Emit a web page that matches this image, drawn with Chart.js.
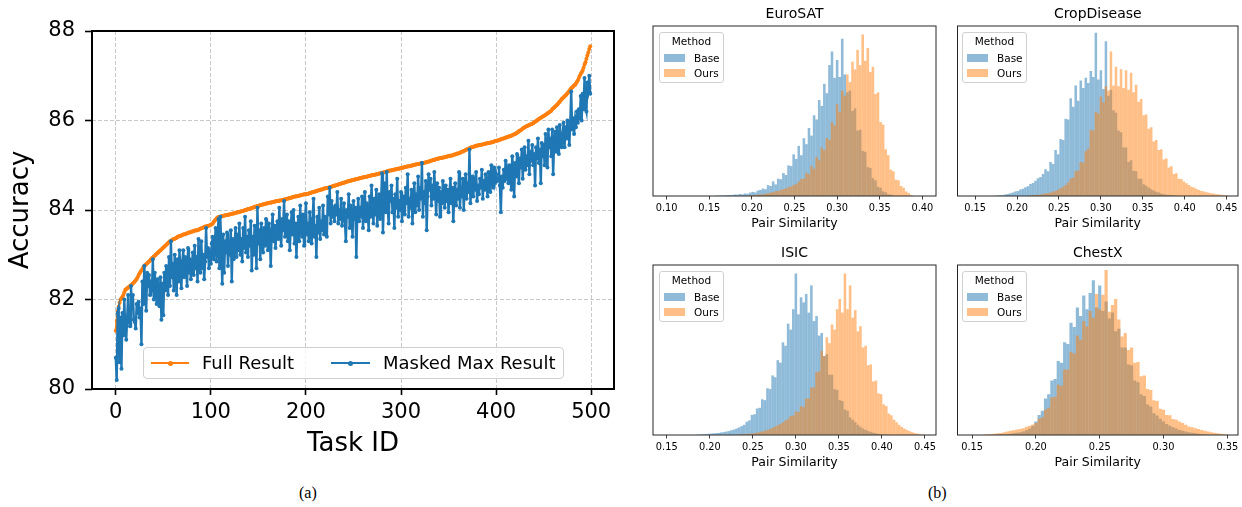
<!DOCTYPE html>
<html><head><meta charset="utf-8">
<script src="https://cdn.jsdelivr.net/npm/chart.js@4.4.1/dist/chart.umd.min.js"></script>
<style>
html,body{margin:0;padding:0;background:#fff;}
body{width:1242px;height:507px;overflow:hidden;position:relative;font-family:"DejaVu Sans",sans-serif;color:#000;}
canvas{position:absolute;}
.leg{position:absolute;box-sizing:border-box;border:1px solid #d0d0d0;border-radius:4px;background:rgba(255,255,255,0.8);}
.lt{position:absolute;font-size:18px;line-height:31px;top:-1px;white-space:nowrap;}
.ls{position:absolute;height:2.4px;top:13.8px;}
.ld{position:absolute;width:5px;height:5px;border-radius:50%;top:-1.3px;}
.hleg{position:absolute;box-sizing:border-box;width:65px;height:51px;border:1px solid #d0d0d0;border-radius:3px;background:rgba(255,255,255,0.8);font-size:10.5px;}
.hleg .ht{position:absolute;left:0;right:0;top:2px;text-align:center;line-height:13px;}
.hleg .row{position:absolute;left:0;right:0;height:13px;line-height:13px;}
.hleg .pt{position:absolute;left:4px;top:2.5px;width:21px;height:8px;}
.hleg .tx{position:absolute;left:34px;top:0;}
.cap{position:absolute;font-family:"Liberation Serif",serif;font-size:16px;}
</style></head>
<body>
<canvas id="main" width="630" height="470" style="left:0;top:0"></canvas>
<canvas id="euro" width="300" height="240" style="left:640px;top:0"></canvas>
<canvas id="crop" width="302" height="240" style="left:940px;top:0"></canvas>
<canvas id="isic" width="300" height="240" style="left:640px;top:239px"></canvas>
<canvas id="chest" width="302" height="240" style="left:940px;top:239px"></canvas>

<div class="leg" style="left:143px;top:347px;width:421px;height:32px;">
  <div class="ls" style="left:7px;width:38px;background:#ff7f0e"><div class="ld" style="left:16.5px;background:#ff7f0e"></div></div>
  <div class="lt" style="left:58px">Full Result</div>
  <div class="ls" style="left:187px;width:39px;background:#1f77b4"><div class="ld" style="left:17px;background:#1f77b4"></div></div>
  <div class="lt" style="left:239px">Masked Max Result</div>
</div>

<div class="hleg" style="left:659px;top:32px;"><div class="ht">Method</div>
  <div class="row" style="top:18.5px"><span class="pt" style="background:#8fbbd9"></span><span class="tx">Base</span></div>
  <div class="row" style="top:33.5px"><span class="pt" style="background:#ffbf86"></span><span class="tx">Ours</span></div></div>
<div class="hleg" style="left:962px;top:32px;"><div class="ht">Method</div>
  <div class="row" style="top:18.5px"><span class="pt" style="background:#8fbbd9"></span><span class="tx">Base</span></div>
  <div class="row" style="top:33.5px"><span class="pt" style="background:#ffbf86"></span><span class="tx">Ours</span></div></div>
<div class="hleg" style="left:659px;top:271px;"><div class="ht">Method</div>
  <div class="row" style="top:18.5px"><span class="pt" style="background:#8fbbd9"></span><span class="tx">Base</span></div>
  <div class="row" style="top:33.5px"><span class="pt" style="background:#ffbf86"></span><span class="tx">Ours</span></div></div>
<div class="hleg" style="left:962px;top:271px;"><div class="ht">Method</div>
  <div class="row" style="top:18.5px"><span class="pt" style="background:#8fbbd9"></span><span class="tx">Base</span></div>
  <div class="row" style="top:33.5px"><span class="pt" style="background:#ffbf86"></span><span class="tx">Ours</span></div></div>

<div class="cap" style="left:299px;top:484px">(a)</div>
<div class="cap" style="left:928px;top:484px">(b)</div>

<script>
// ---------- Left panel data ----------
const taskTicks = [0, 100, 200, 300, 400, 500];
const accTicks = [80, 82, 84, 86, 88];
const fullResult = [
81.30,81.52,81.74,81.84,81.93,82.00,82.03,82.06,82.10,82.16,
82.22,82.23,82.25,82.27,82.28,82.30,82.32,82.34,82.36,82.38,
82.40,82.43,82.46,82.50,82.55,82.58,82.62,82.65,82.68,82.72,
82.75,82.77,82.79,82.81,82.83,82.85,82.87,82.90,82.92,82.94,
82.96,82.98,83.00,83.02,83.04,83.06,83.08,83.10,83.12,83.14,
83.16,83.18,83.20,83.22,83.24,83.26,83.28,83.30,83.31,83.33,
83.34,83.35,83.36,83.37,83.38,83.40,83.41,83.42,83.42,83.43,
83.44,83.45,83.46,83.46,83.47,83.48,83.49,83.50,83.50,83.51,
83.52,83.52,83.53,83.54,83.54,83.55,83.55,83.56,83.57,83.58,
83.59,83.60,83.61,83.62,83.63,83.63,83.64,83.65,83.65,83.66,
83.67,83.68,83.70,83.73,83.76,83.79,83.81,83.83,83.84,83.85,
83.85,83.86,83.86,83.87,83.87,83.88,83.88,83.89,83.89,83.90,
83.90,83.91,83.91,83.92,83.92,83.93,83.94,83.94,83.95,83.95,
83.96,83.96,83.97,83.98,83.98,83.99,84.00,84.00,84.01,84.02,
84.02,84.03,84.04,84.04,84.05,84.06,84.07,84.07,84.08,84.09,
84.09,84.10,84.11,84.11,84.12,84.13,84.13,84.14,84.14,84.15,
84.15,84.16,84.16,84.17,84.17,84.18,84.18,84.19,84.19,84.20,
84.20,84.20,84.21,84.21,84.22,84.22,84.23,84.23,84.24,84.24,
84.25,84.25,84.26,84.27,84.27,84.28,84.29,84.29,84.30,84.30,
84.31,84.31,84.32,84.32,84.33,84.33,84.34,84.34,84.35,84.35,
84.35,84.36,84.36,84.37,84.38,84.38,84.39,84.40,84.40,84.41,
84.42,84.42,84.43,84.44,84.44,84.45,84.46,84.46,84.47,84.48,
84.48,84.49,84.49,84.50,84.50,84.51,84.52,84.52,84.53,84.54,
84.54,84.55,84.56,84.56,84.57,84.58,84.58,84.59,84.60,84.60,
84.61,84.62,84.62,84.63,84.64,84.64,84.65,84.66,84.66,84.67,
84.67,84.68,84.68,84.69,84.69,84.70,84.71,84.71,84.72,84.72,
84.73,84.73,84.74,84.74,84.75,84.75,84.76,84.76,84.77,84.77,
84.78,84.78,84.79,84.79,84.80,84.80,84.81,84.81,84.82,84.82,
84.83,84.84,84.84,84.85,84.85,84.86,84.87,84.87,84.88,84.88,
84.89,84.89,84.90,84.90,84.91,84.91,84.92,84.92,84.93,84.93,
84.94,84.94,84.95,84.95,84.96,84.96,84.97,84.97,84.98,84.98,
84.99,84.99,85.00,85.00,85.01,85.01,85.02,85.02,85.03,85.03,
85.04,85.04,85.05,85.05,85.05,85.06,85.06,85.07,85.08,85.08,
85.09,85.10,85.10,85.11,85.12,85.12,85.13,85.14,85.14,85.15,
85.15,85.16,85.16,85.17,85.17,85.18,85.18,85.19,85.19,85.20,
85.20,85.21,85.21,85.22,85.22,85.23,85.24,85.24,85.25,85.26,
85.26,85.27,85.28,85.29,85.30,85.31,85.32,85.33,85.34,85.35,
85.36,85.37,85.38,85.39,85.40,85.41,85.41,85.42,85.43,85.43,
85.44,85.44,85.45,85.45,85.46,85.46,85.47,85.47,85.48,85.48,
85.49,85.49,85.50,85.50,85.51,85.51,85.52,85.52,85.53,85.54,
85.54,85.55,85.56,85.56,85.57,85.58,85.59,85.59,85.60,85.61,
85.62,85.62,85.63,85.64,85.65,85.65,85.66,85.67,85.68,85.69,
85.70,85.71,85.73,85.74,85.76,85.77,85.79,85.80,85.82,85.83,
85.85,85.86,85.87,85.88,85.89,85.90,85.91,85.92,85.93,85.94,
85.96,85.97,85.99,86.00,86.02,86.03,86.05,86.06,86.07,86.09,
86.10,86.11,86.13,86.14,86.16,86.17,86.19,86.20,86.22,86.25,
86.27,86.29,86.31,86.33,86.35,86.37,86.40,86.42,86.45,86.48,
86.50,86.52,86.54,86.56,86.58,86.61,86.63,86.66,86.69,86.72,
86.74,86.76,86.78,86.80,86.83,86.86,86.90,86.95,87.00,87.04,
87.08,87.12,87.18,87.25,87.30,87.38,87.45,87.52,87.60,87.66];
const maskedMaxResult = [
80.70,80.20,81.70,81.80,80.60,81.60,80.45,81.70,81.20,82.00,
81.30,81.10,81.60,82.10,81.50,81.40,82.30,81.80,82.10,81.55,
81.50,81.35,81.90,81.70,81.95,81.60,81.80,81.00,82.40,81.90,
82.75,82.20,81.75,82.60,82.30,82.55,82.10,82.40,82.20,82.90,
82.00,82.60,82.30,81.90,82.45,82.15,81.85,82.50,81.55,82.35,
81.65,82.60,82.20,82.75,82.40,82.10,82.95,82.30,83.30,82.50,
82.80,82.20,83.00,82.55,82.10,82.90,82.40,83.10,82.60,82.25,
82.85,83.10,82.50,82.95,82.70,82.30,83.15,82.60,82.90,82.45,
82.75,83.05,82.55,83.20,82.70,82.95,82.40,83.35,82.80,82.60,
83.30,82.70,83.00,82.45,82.85,83.60,82.95,83.15,82.70,83.05,
82.80,83.25,83.40,82.90,83.15,83.60,82.85,83.30,83.80,82.70,
83.85,83.10,82.35,83.45,82.60,83.30,83.05,83.50,82.75,83.20,
83.00,83.55,82.40,83.35,82.90,83.25,83.60,82.95,83.45,83.10,
83.70,83.00,83.35,82.85,83.60,83.15,83.85,83.05,83.40,82.95,
83.55,83.20,83.75,82.65,83.40,83.00,83.65,83.30,82.70,84.05,
83.25,83.55,82.90,83.70,83.35,83.05,83.60,83.20,83.80,83.40,
83.10,83.70,83.45,82.75,83.55,83.90,83.30,83.65,83.15,83.50,
83.75,83.35,84.05,83.50,83.20,83.80,83.55,84.20,83.40,83.65,
83.90,83.30,83.75,83.10,83.60,83.95,83.45,84.00,83.25,83.70,
82.95,83.55,83.85,83.30,84.10,83.60,83.40,83.90,83.20,83.75,
84.15,83.45,83.70,83.30,83.95,83.55,83.25,83.80,84.25,83.40,
83.65,82.95,83.85,83.50,84.05,83.35,83.75,83.55,84.10,83.45,
83.85,83.60,83.40,84.30,83.90,84.50,83.70,84.20,83.85,84.05,
83.75,84.10,83.90,84.40,83.70,84.00,83.80,84.25,83.65,83.95,
84.15,83.75,83.30,84.00,83.85,84.35,83.60,84.10,83.90,83.40,
84.20,83.80,84.05,82.95,83.90,84.25,83.75,84.05,83.85,84.30,
83.60,84.00,84.40,83.75,84.15,83.95,83.55,84.30,83.85,84.55,
84.00,83.70,84.25,83.90,84.45,83.65,84.10,84.35,83.80,84.15,
84.82,83.50,84.20,84.60,83.95,84.85,84.05,83.70,84.40,84.20,
84.55,83.95,84.25,83.60,84.35,84.05,84.70,83.85,84.20,84.00,
84.40,83.75,84.10,84.30,83.90,84.50,84.15,84.80,83.85,84.25,
84.05,84.45,83.70,84.20,84.60,83.95,84.35,84.10,84.75,84.00,
84.50,84.25,85.05,83.85,84.40,84.15,84.65,83.55,84.30,84.80,
84.45,84.70,84.10,84.55,84.25,84.85,84.35,83.90,84.60,84.20,
84.50,83.85,84.40,84.15,84.65,84.30,84.05,84.55,84.20,84.45,
83.95,84.40,84.70,84.15,84.50,83.75,84.35,84.60,84.10,84.45,
84.25,84.85,84.05,84.50,84.30,84.70,84.00,84.55,84.80,84.25,
84.60,84.40,85.35,84.15,84.50,84.75,84.30,84.60,84.45,84.85,
84.20,84.55,84.35,84.70,84.50,84.90,84.25,84.65,84.45,84.80,
84.55,84.30,84.85,84.60,84.40,85.00,84.70,84.50,84.95,84.65,
84.80,84.65,84.70,84.95,84.55,83.95,84.75,84.50,84.90,84.65,
85.10,84.70,84.85,84.60,85.00,84.80,84.45,85.20,84.90,84.30,
85.05,84.75,85.25,84.85,84.60,85.15,84.95,85.35,84.70,85.10,
85.40,84.90,85.20,85.00,85.55,84.80,85.30,85.10,85.45,85.00,
85.25,84.55,85.40,85.15,85.60,85.05,85.35,84.60,85.50,85.20,
85.45,85.00,85.70,85.30,84.95,85.80,85.40,85.60,85.20,85.80,
84.80,85.50,85.75,85.30,85.85,85.55,85.25,85.90,85.60,85.40,
85.70,85.95,85.40,85.85,85.60,86.00,85.75,85.45,85.95,86.65,
85.80,86.05,85.70,86.00,85.85,86.20,85.95,86.25,86.05,86.55,
86.00,86.60,86.25,86.95,86.30,86.20,86.85,86.70,87.00,86.60];
const taskIds = fullResult.map((_, i) => i);

// ---------- Histogram data (bin heights, % of panel height) ----------
const euroTicks = [0.10, 0.15, 0.20, 0.25, 0.30, 0.35, 0.40];
const cropTicks = [0.15, 0.20, 0.25, 0.30, 0.35, 0.40, 0.45];
const isicTicks = [0.15, 0.20, 0.25, 0.30, 0.35, 0.40, 0.45];
const chestTicks = [0.15, 0.20, 0.25, 0.30, 0.35];

const euroBinWidth = 0.003, euroBaseStart = 0.159, euroOursStart = 0.198;
const euroBase = [0.3,0.2,0.4,0.3,0.5,0.6,0.5,0.9,0.8,1.2,1.0,1.5,1.3,2.0,2.4,2.1,3.2,3.6,4.4,4.0,
6.4,5.9,8.6,6.8,10.2,9.9,13.5,12.4,18.0,17.6,24.5,21.8,29.5,24.0,34.0,30.5,40.0,35.5,47.5,45.0,
56.5,53.0,66.0,60.5,77.0,85.0,69.5,80.0,70.0,92.5,71.5,61.0,62.0,50.0,51.5,38.5,39.0,26.5,26.0,17.0,
16.5,10.5,9.2,5.4,4.9,2.7,2.2,1.0,0.8,0.3];
const euroOurs = [0.4,0.6,0.5,0.8,1.0,0.9,1.4,1.6,2.0,2.3,2.8,3.0,3.6,4.0,4.5,5.2,5.6,6.5,7.0,8.5,
10.0,10.2,13.6,12.8,17.8,16.0,23.0,21.0,28.5,27.0,34.0,33.0,43.5,41.5,54.0,49.5,62.0,59.0,71.5,67.0,
79.0,74.5,86.0,77.0,95.0,79.5,87.0,73.0,76.0,60.0,61.0,43.5,42.0,27.5,24.0,15.5,14.5,9.6,9.2,5.9,
4.9,2.7,1.8,0.6];

const cropBinWidth = 0.003, cropBaseStart = 0.174, cropOursStart = 0.216;
const cropBase = [0.2,0.3,0.5,0.4,0.9,1.2,1.6,2.0,2.6,2.9,3.8,4.2,5.2,5.8,7.0,7.6,9.0,10.5,11.2,13.0,
15.8,14.6,20.0,18.8,27.0,24.5,33.5,33.0,45.5,45.0,57.5,52.5,65.0,56.0,68.0,63.5,69.5,66.5,73.5,70.0,
96.0,68.5,74.0,63.0,91.0,59.0,62.5,50.5,49.0,38.5,37.5,28.5,28.5,20.0,21.0,14.8,14.5,10.2,10.2,6.9,
6.0,5.0,4.0,3.2,2.5,2.0,1.5,1.1,0.8,0.6,0.4,0.3,0.2];
const cropOurs = [0.3,0.5,0.6,0.8,0.9,1.2,1.4,1.8,2.1,2.6,3.0,3.8,4.5,5.5,6.5,8.0,10.2,10.8,14.5,15.0,
20.0,19.5,26.5,28.0,39.0,38.5,49.5,48.5,58.5,55.0,64.5,62.0,85.0,65.0,76.0,64.5,74.5,63.5,74.0,62.5,
72.5,61.0,65.5,55.5,57.0,47.5,48.0,39.5,40.5,32.0,33.0,27.0,27.5,21.5,22.0,16.8,17.5,13.0,13.4,10.2,
10.0,8.5,7.5,6.5,5.5,5.0,4.2,3.6,3.0,2.6,2.2,1.9,1.6,1.3,1.1,0.9,0.7,0.5,0.3];

const isicBinWidth = 0.003, isicBaseStart = 0.186, isicOursStart = 0.234;
const isicBase = [0.2,0.3,0.4,0.5,0.7,0.8,0.9,1.1,1.2,1.5,1.7,2.0,2.3,2.8,3.2,3.8,4.5,5.2,6.0,7.8,
8.6,11.8,12.2,15.6,16.0,21.0,20.5,27.5,27.0,35.0,34.0,44.0,42.5,54.5,52.5,65.5,62.0,74.0,95.0,71.0,
81.0,78.0,83.0,72.0,88.0,67.0,70.0,58.5,60.0,46.5,47.5,35.5,35.5,27.0,26.5,20.5,20.0,15.0,14.2,10.4,
9.0,7.5,6.0,4.8,3.8,3.0,2.4,1.8,1.4,1.0,0.7,0.5,0.3,0.2];
const isicOurs = [0.3,0.4,0.5,0.6,0.8,0.9,1.1,1.4,1.7,2.1,2.5,3.0,3.5,4.2,5.0,5.8,6.5,7.5,8.5,9.5,
11.2,11.4,13.8,13.6,17.0,16.4,21.5,21.5,28.0,28.0,37.0,37.5,49.5,46.5,57.5,54.0,65.0,62.0,74.0,80.0,
72.0,95.0,74.0,88.0,69.0,73.5,61.0,64.0,51.5,52.5,41.0,41.5,31.5,32.0,24.5,24.0,18.0,17.0,12.6,11.6,
9.0,7.5,6.0,4.8,3.8,3.0,2.3,1.7,1.2,0.8,0.5,0.3];

const chestBinWidth = 0.0025, chestBaseStart = 0.1675, chestOursStart = 0.16;
const chestBase = [0.2,0.3,0.4,0.5,0.6,0.8,1.0,1.3,1.6,2.0,2.8,3.8,5.5,8.0,11.8,14.2,21.5,24.0,32.0,33.0,
43.5,42.5,54.5,53.5,66.0,63.5,75.0,70.0,82.0,74.0,83.5,91.0,75.0,88.0,73.0,78.5,68.5,72.0,61.0,62.5,
51.5,51.5,41.5,41.0,32.0,31.0,24.0,23.0,18.0,16.8,12.8,11.5,9.5,8.0,6.5,5.5,4.5,3.8,3.0,2.5,
2.0,1.6,1.3,1.0,0.8,0.5,0.3,0.2];
const chestOurs = [0.3,0.4,0.6,0.7,1.0,1.2,1.6,2.0,2.5,2.8,3.2,3.6,4.0,4.8,5.5,6.2,7.0,9.6,10.4,15.0,
16.0,22.0,22.5,29.5,29.0,38.5,38.5,49.0,48.0,58.5,56.0,67.0,64.0,73.0,69.0,83.0,74.0,82.5,97.0,72.5,
76.5,80.0,68.0,58.0,60.0,50.0,51.5,42.5,43.0,34.5,35.0,27.0,26.5,20.5,20.0,15.5,14.8,11.8,11.6,9.4,
9.0,8.0,7.0,6.0,5.0,4.5,4.0,3.5,3.0,2.5,2.0,1.6,1.3,1.0,0.7,0.5,0.3];

// ---------- Rendering ----------
Chart.defaults.font.family = "'DejaVu Sans', sans-serif";
Chart.defaults.color = '#000';

const framePlugin = {
  id: 'frame',
  afterDraw(chart, args, opts) {
    const {ctx, chartArea: a} = chart;
    ctx.save();
    ctx.strokeStyle = opts.color || '#000';
    ctx.lineWidth = opts.width || 1;
    ctx.strokeRect(a.left, a.top, a.right - a.left, a.bottom - a.top);
    ctx.restore();
  }
};

const gridStyle = {color: '#c8c8c8', lineWidth: 1, drawTicks: true, tickColor: '#000', tickWidth: 1.6, tickBorderDash: []};

new Chart(document.getElementById('main'), {
  type: 'line',
  data: {
    datasets: [
      {label: 'Full Result', data: taskIds.map((t, i) => ({x: t, y: fullResult[i]})),
       borderColor: '#ff7f0e', backgroundColor: '#ff7f0e', borderWidth: 2.4, pointRadius: 2,
       pointBorderWidth: 0, pointHoverRadius: 0, tension: 0, order: 2},
      {label: 'Masked Max Result', data: taskIds.map((t, i) => ({x: t, y: maskedMaxResult[i]})),
       borderColor: '#1f77b4', backgroundColor: '#1f77b4', borderWidth: 2.4, pointRadius: 2,
       pointBorderWidth: 0, pointHoverRadius: 0, tension: 0, order: 1}
    ]
  },
  options: {
    responsive: false, animation: false, events: [],
    layout: {padding: {left: 0, top: 31, right: 16, bottom: 0}},
    plugins: {legend: {display: false}, tooltip: {enabled: false}, frame: {width: 2, color: '#000'}},
    scales: {
      x: {
        type: 'linear', min: -25, max: 524,
        afterBuildTicks: s => { s.ticks = taskTicks.map(v => ({value: v})); },
        afterFit: s => { s.height = 81; },
        grid: Object.assign({}, gridStyle, {tickLength: 6}),
        border: {display: false, dash: [4, 2]},
        ticks: {font: {size: 21}, color: '#000', padding: 4.5, maxRotation: 0, autoSkip: false, callback: v => String(v)},
        title: {display: true, text: 'Task ID', font: {size: 26}, color: '#000', padding: {top: 0, bottom: 10.4}}
      },
      y: {
        min: 80, max: 88,
        afterBuildTicks: s => { s.ticks = accTicks.map(v => ({value: v})); },
        afterFit: s => { s.width = 92; },
        grid: Object.assign({}, gridStyle, {tickLength: 7}),
        border: {display: false, dash: [4, 2]},
        ticks: {font: {size: 21}, color: '#000', padding: 10, autoSkip: false, callback: v => String(v)},
        title: {display: true, text: 'Accuracy', font: {size: 26}, color: '#000', padding: {top: 5.9, bottom: 0}}
      }
    }
  },
  plugins: [framePlugin]
});

function binData(start, w, heights) {
  return heights.map((h, i) => ({x: +(start + i * w).toFixed(4), y: h}));
}

function histChart(id, title, xmin, xmax, ticks, w, baseStart, base, oursStart, ours, padLeft, padRight) {
  new Chart(document.getElementById(id), {
    type: 'bar',
    data: {
      datasets: [
        {label: 'Base', data: binData(baseStart, w, base), backgroundColor: 'rgba(31,119,180,0.5)',
         borderWidth: 0, barPercentage: 1, categoryPercentage: 1, grouped: false, inflateAmount: 0, order: 2},
        {label: 'Ours', data: binData(oursStart, w, ours), backgroundColor: 'rgba(255,127,14,0.5)',
         borderWidth: 0, barPercentage: 1, categoryPercentage: 1, grouped: false, inflateAmount: 0, order: 1}
      ]
    },
    options: {
      responsive: false, animation: false, events: [],
      layout: {padding: {left: padLeft, top: 0, right: padRight, bottom: 0}},
      plugins: {
        legend: {display: false}, tooltip: {enabled: false},
        title: {display: true, text: title, font: {size: 14, weight: 'normal'}, color: '#000', padding: {top: 6, bottom: 3.2}},
        frame: {width: 1, color: '#262626'}
      },
      scales: {
        x: {
          type: 'linear', min: xmin, max: xmax, offset: false,
          afterBuildTicks: s => { s.ticks = ticks.map(v => ({value: v})); },
          afterFit: s => { s.height = 44; },
          grid: {display: true, offset: false, drawOnChartArea: false, drawTicks: true, tickLength: 3.5, tickColor: '#262626', tickWidth: 0.9, tickBorderDash: []},
          border: {display: false},
          ticks: {font: {size: 9.8}, color: '#000', padding: 2.8, maxRotation: 0, autoSkip: false, callback: v => v.toFixed(2)},
          title: {display: true, text: 'Pair Similarity', font: {size: 12.5}, color: '#000', padding: {top: 0, bottom: 8.5}}
        },
        y: {display: false, min: 0, max: 100}
      }
    },
    plugins: [framePlugin]
  });
}

histChart('euro', 'EuroSAT', 0.084, 0.416, euroTicks, euroBinWidth, euroBaseStart, euroBase, euroOursStart, euroOurs, 13, 4);
histChart('crop', 'CropDisease', 0.129, 0.4635, cropTicks, cropBinWidth, cropBaseStart, cropBase, cropOursStart, cropOurs, 17.5, 4);
histChart('isic', 'ISIC', 0.134, 0.4628, isicTicks, isicBinWidth, isicBaseStart, isicBase, isicOursStart, isicOurs, 13, 4);
histChart('chest', 'ChestX', 0.1385, 0.3584, chestTicks, chestBinWidth, chestBaseStart, chestBase, chestOursStart, chestOurs, 17.5, 4);
</script>
</body></html>
